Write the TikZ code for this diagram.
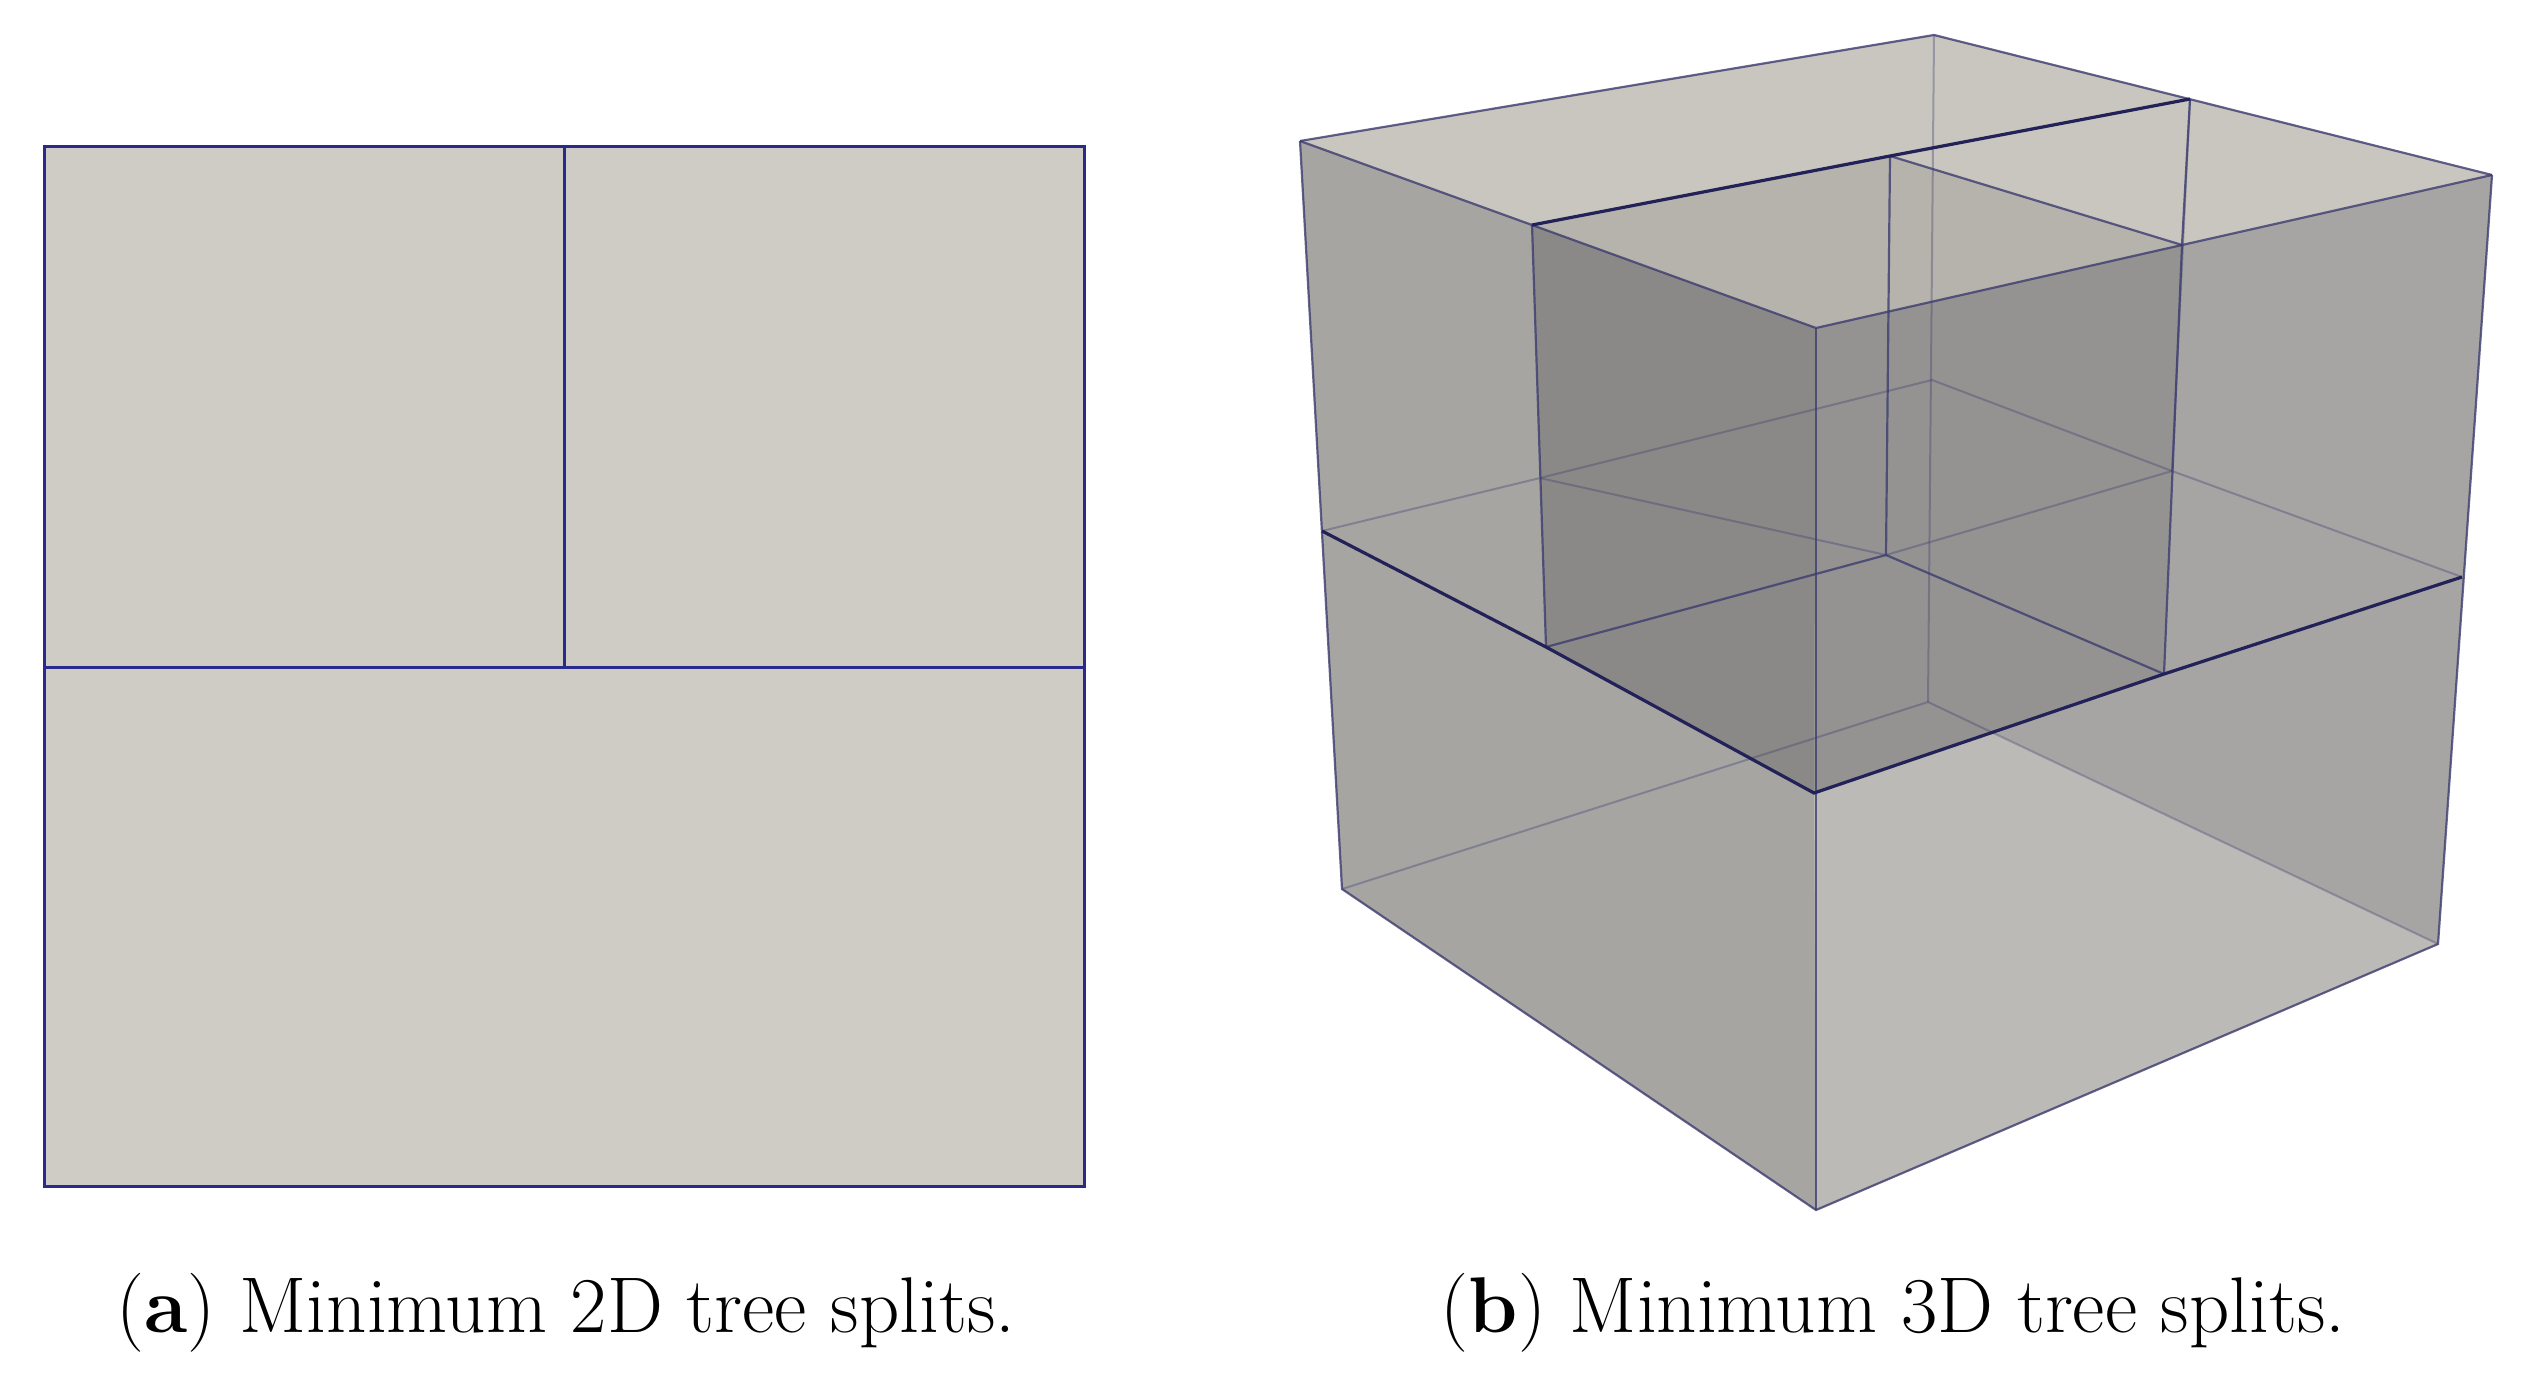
\documentclass[tikz,border=0pt]{standalone}
\begin{document}
\begin{tikzpicture}[x=1pt,y=-1pt,
  sq/.style={draw=edge2d,line width=3pt},
  edgethin/.style={draw=edge3d,line width=2.2pt,opacity=0.8},
  edgefaint/.style={draw=edge3d,line width=2pt,opacity=0.35},
  edgethick/.style={draw=edge3dk,line width=3.2pt},
  captext/.style={font=\fontsize{79}{86}\selectfont,anchor=center}]
\definecolor{edge2d}{HTML}{2A2A8C}
\definecolor{edge3d}{HTML}{3C3C70}
\definecolor{edge3dk}{HTML}{222258}
\definecolor{fill2d}{HTML}{CFCCC6}
\useasboundingbox (0,0) rectangle (2535,1382);
% 2D
\fill[fill2d] (44,146) rectangle (1084,1186);
\draw[sq] (44,146) rectangle (1084,1186);
\draw[sq] (44,667) -- (1084,667);
\draw[sq] (564,146) -- (564,667);
% 3D coordinates
\coordinate (A) at (1300,141);
\coordinate (B) at (1934,35);
\coordinate (C) at (2492,175);
\coordinate (F) at (1816,328);
\coordinate (L) at (1532,225);
\coordinate (T) at (1890,156);
\coordinate (R) at (2182,245);
\coordinate (Bm) at (2190,99);
\coordinate (Am) at (1322,531);
\coordinate (Bmid) at (1932,380);
\coordinate (Cm) at (2462,577);
\coordinate (Fm) at (1814,793);
\coordinate (Lm) at (1546,647);
\coordinate (Tm) at (1886,555);
\coordinate (Rm) at (2164,674);
\coordinate (Qb) at (2172,471);
\coordinate (Ql) at (1540,478);
\coordinate (Ab) at (1342,889);
\coordinate (Bb) at (1928,702);
\coordinate (Cb) at (2438,944);
\coordinate (Fb) at (1816,1210);
\coordinate (X) at (1994,733);
% fills
\fill[fill={rgb,255:red,165;green,164;blue,163}] (A) -- (B) -- (C) -- (Cb) -- (Fb) -- (Ab) -- cycle;
\fill[fill={rgb,255:red,166;green,165;blue,162}] (A) -- (F) -- (Fb) -- (Ab) -- cycle;
\fill[fill={rgb,255:red,166;green,165;blue,164}] (F) -- (C) -- (Cb) -- (Fb) -- cycle;
\fill[fill={rgb,255:red,188;green,186;blue,182}] (Fm) -- (X) -- (Cb) -- (Fb) -- cycle;
\fill[fill={rgb,255:red,170;green,168;blue,163}] (Lm) -- (Tm) -- (Rm) -- (Fm) -- cycle;
\fill[fill={rgb,255:red,201;green,198;blue,191}] (A) -- (B) -- (C) -- (F) -- cycle;
\fill[fill={rgb,255:red,182;green,179;blue,172}] (L) -- (T) -- (R) -- (F) -- cycle;
\fill[fill={rgb,255:red,138;green,137;blue,135}] (L) -- (F) -- (Fm) -- (Lm) -- cycle;
\fill[fill={rgb,255:red,148;green,147;blue,145}] (F) -- (R) -- (Rm) -- (Fm) -- cycle;
% hidden / faint edges
\draw[edgefaint] (B) -- (Bb);
\draw[edgefaint] (Ab) -- (Bb) -- (Cb);
\draw[edgefaint] (Am) -- (Ql) -- (Bmid) -- (Qb) -- (Cm);
\draw[edgefaint] (Ql) -- (Tm) -- (Qb);
\draw[edgefaint] (Bm) -- (Qb);
\draw[edgethin] (Tm) -- (Rm);
\draw[edgethin] (Lm) -- (Tm);
\draw[edgethin] (T) -- (Tm);
% outer edges
\draw[edgethin] (A) -- (B) -- (C);
\draw[edgethin] (A) -- (L) -- (F) -- (R) -- (C);
\draw[edgethin] (A) -- (Ab) -- (Fb) -- (Cb) -- (C);
\draw[edgethin] (F) -- (Fb);
\draw[edgethin] (T) -- (R);
\draw[edgethin] (Bm) -- (R);
\draw[edgethin] (L) -- (Lm);
\draw[edgethin] (R) -- (Rm);
% thick edges
\draw[edgethick] (L) -- (T) -- (Bm);
\draw[edgethick] (Am) -- (Lm) -- (Fm) -- (Rm) -- (Cm);
% captions
\node[captext] (ca) at (566,1313) {(\textbf{a}) Minimum 2D tree splits.};
\node[captext] (cb) at (1893,1313) {(\textbf{b}) Minimum 3D tree splits.};
\end{tikzpicture}
\end{document}
